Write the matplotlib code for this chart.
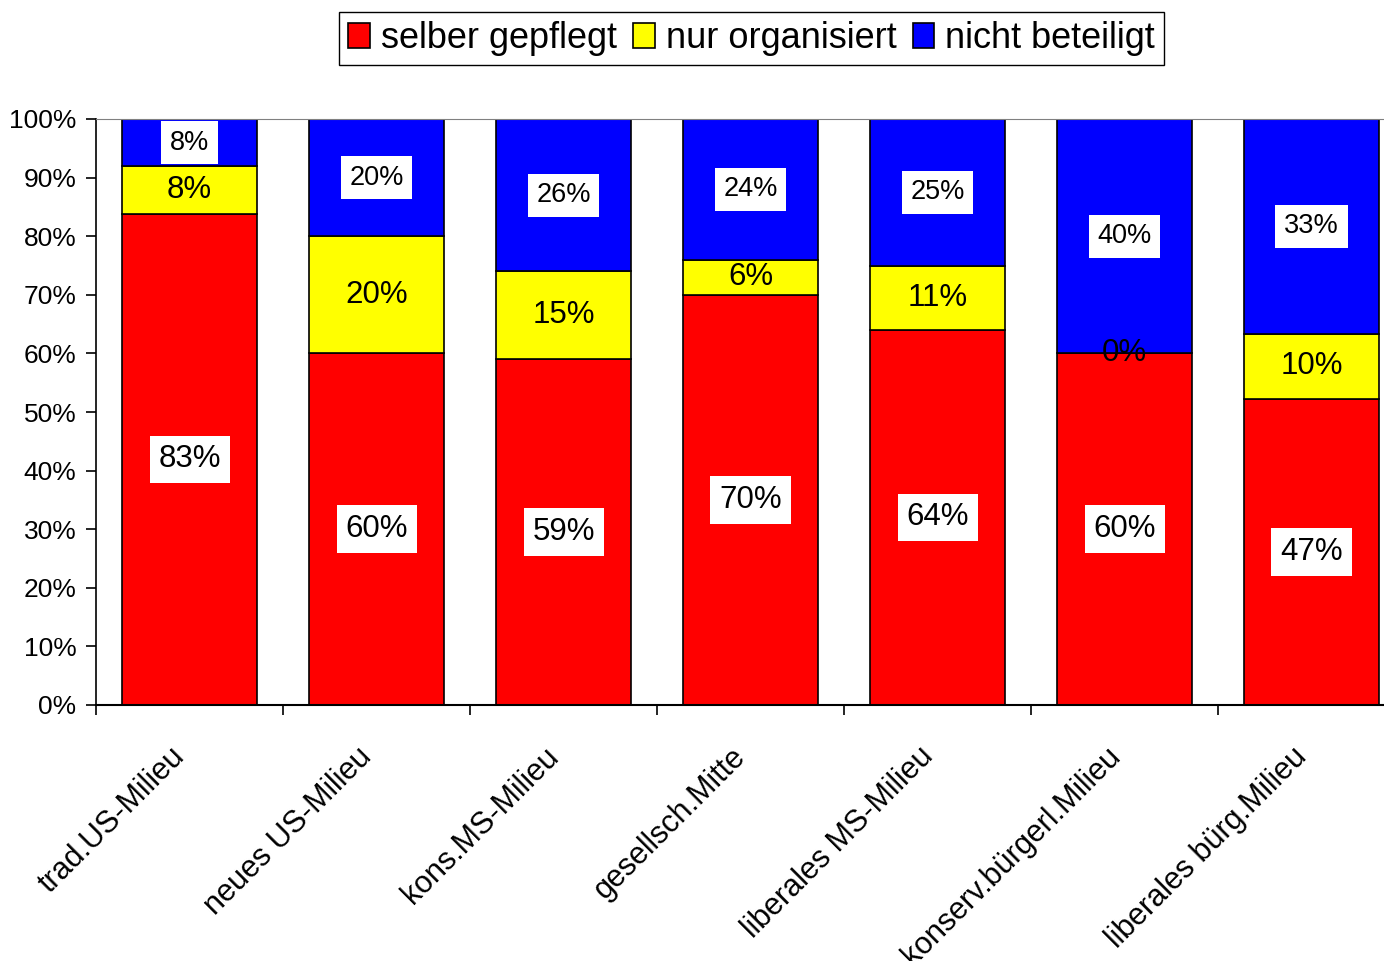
import numpy as np
import matplotlib.pyplot as plt
from matplotlib.transforms import ScaledTranslation

plt.rcParams['font.family'] = ['Liberation Sans', 'DejaVu Sans']

# Data (shares in %, chart normalizes each column to 100%)
categories = ["trad.US-Milieu", "neues US-Milieu", "kons.MS-Milieu", "gesellsch.Mitte",
              "liberales MS-Milieu", "konserv.bürgerl.Milieu", "liberales bürg.Milieu"]
selber = [83, 60, 59, 70, 64, 60, 47]
organisiert = [8, 20, 15, 6, 11, 0, 10]
nicht = [8, 20, 26, 24, 25, 40, 33]
series_names = ["selber gepflegt", "nur organisiert", "nicht beteiligt"]
colors = ["#ff0000", "#ffff00", "#0000ff"]

raw = np.array([selber, organisiert, nicht], dtype=float)
share = raw / raw.sum(axis=0) * 100

fig = plt.figure(figsize=(13.84, 9.61), dpi=100)
ax = fig.add_axes([96 / 1384, 1 - 705 / 961, 1309 / 1384, 586 / 961])

x = np.arange(len(categories))
width = 0.717
bottom = np.zeros(len(categories))
handles = []
for i in range(3):
    h = ax.bar(x, share[i], width, bottom=bottom, color=colors[i],
               edgecolor="black", linewidth=1.2, label=series_names[i])
    handles.append(h)
    for j in range(len(categories)):
        yc = bottom[j] + share[i][j] / 2
        txt = f"{int(raw[i][j])}%"
        if i == 0:
            ax.text(x[j], yc, txt, ha="center", va="center", fontsize=22.5,
                    bbox=dict(boxstyle="square,pad=0.28", fc="white", ec="none"))
        elif i == 1:
            ax.text(x[j], yc, txt, ha="center", va="center", fontsize=22.5)
        else:
            ax.text(x[j], yc, txt, ha="center", va="center", fontsize=19.5,
                    bbox=dict(boxstyle="square,pad=0.32", fc="white", ec="none"))
    bottom += share[i]

ax.set_xlim(-0.5, len(categories) - 0.5)
ax.set_ylim(0, 100)
ax.set_yticks(np.arange(0, 101, 10))
ax.set_yticklabels([f"{v}%" for v in range(0, 101, 10)], fontsize=19)
ax.tick_params(axis="y", direction="out", length=7, width=1.2, pad=7)

ax.set_xticks(np.arange(-0.5, len(categories), 1.0))
ax.set_xticklabels([])
ax.tick_params(axis="x", which="major", direction="out", length=7, width=1.2)
ax.set_xticks(x, minor=True)
ax.set_xticklabels(categories, minor=True, rotation=45, ha="right", va="center",
                   rotation_mode="anchor", fontsize=22)
ax.tick_params(axis="x", which="minor", length=0, pad=34)
shift = ScaledTranslation(-9 / 100, 0, fig.dpi_scale_trans)
for lab in ax.get_xticklabels(minor=True):
    lab.set_transform(lab.get_transform() + shift)

ax.spines["right"].set_visible(False)
ax.spines["top"].set_color("gray")
ax.spines["left"].set_linewidth(1.2)
ax.spines["bottom"].set_linewidth(1.5)

fig.legend(handles=handles, loc="center", bbox_to_anchor=(751.5 / 1384, 1 - 38.5 / 961),
           ncol=3, fontsize=26, frameon=True, fancybox=False, edgecolor="black",
           framealpha=1, handlelength=0.6, handleheight=0.7, handletextpad=0.3,
           columnspacing=0.45, borderpad=0.25, borderaxespad=0)

fig.savefig("out.png", dpi=100)
